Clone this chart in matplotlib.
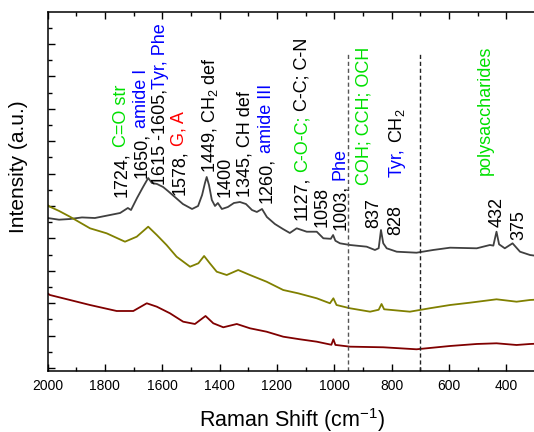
import matplotlib
matplotlib.use("Agg")
import matplotlib.pyplot as plt
from matplotlib.ticker import MultipleLocator
from matplotlib.transforms import offset_copy

plt.rcParams['font.family'] = ['Liberation Sans', 'DejaVu Sans']
plt.rcParams['mathtext.fontset'] = 'custom'
plt.rcParams['mathtext.rm'] = 'Liberation Sans'

# spectra (wavenumber in cm-1, intensity in arbitrary units)
wn_top = [2000, 1960, 1922, 1880, 1835, 1782, 1747, 1720, 1709, 1688, 1667, 1649, 1636, 1618,
          1597, 1580, 1556, 1528, 1496, 1475, 1461, 1451, 1445, 1437, 1427, 1416, 1406, 1392,
          1371, 1350, 1329, 1308, 1287, 1270, 1252, 1235, 1207, 1179, 1155, 1131, 1096,
          1061, 1038, 1012, 1004, 996, 980, 945, 887, 858, 845, 837, 829, 817, 782, 713,
          655, 596, 503, 457, 445, 434, 425, 405, 378, 352, 317, 300]
int_top = [4632, 4580, 4601, 4650, 4632, 4725, 4787, 4941, 4879, 5249, 5589, 5867, 5712, 5681,
           5589, 5465, 5280, 5064, 4910, 5003, 5342, 5712, 5898, 5651, 5188, 5003, 5095, 4910,
           4972, 5095, 5126, 5064, 4879, 4818, 4910, 4663, 4447, 4293, 4170, 4314, 4209,
           4209, 4006, 3990, 4107, 3930, 3851, 3799, 3747, 3645, 3700, 4262, 3851, 3697,
           3592, 3561, 3645, 3716, 3697, 3799, 3780, 4209, 3820, 3697, 3851, 3592, 3490, 3470]

wn_mid = [2000, 1992, 1960, 1922, 1852, 1794, 1730, 1689, 1649, 1619, 1585, 1550, 1503, 1474,
          1454, 1434, 1410, 1375, 1335, 1294, 1236, 1178, 1126, 1061, 1015, 1003, 992,
          945, 875, 845, 835, 826, 736, 667, 596, 527, 434, 364, 317, 300]
int_mid = [5033, 4981, 4850, 4672, 4314, 4160, 3901, 4055, 4364, 4108, 3799, 3438, 3129, 3234,
           3460, 3234, 2975, 2873, 3027, 2873, 2666, 2410, 2308, 2154, 2000, 2154, 1947,
           1846, 1741, 1800, 1978, 1815, 1741, 1846, 1947, 2018, 2123, 2049, 2102, 2110]

wn_low = [2000, 1992, 1922, 1852, 1759, 1701, 1654, 1619, 1573, 1527, 1486, 1449, 1422,
          1387, 1340, 1294, 1236, 1178, 1120, 1061, 1010, 1003, 996, 945, 829, 713, 596,
          503, 434, 364, 317, 300]
int_low = [2308, 2256, 2102, 1947, 1762, 1762, 2000, 1895, 1691, 1432, 1361, 1608, 1383,
           1259, 1361, 1228, 1123, 969, 889, 815, 720, 889, 715, 661, 642, 580, 682,
           744, 765, 713, 744, 750]

region_edges = [953, 700]
xticks = [2000, 1800, 1600, 1400, 1200, 1000, 800, 600, 400]

K, G, B, R = 'black', '#00e000', '#0000ff', '#ff0000'
sub2 = r'$_\mathregular{2}$'
labels = [
    (1750, 5290, [("1724,", K), (" C=O str", G)]),
    (1678, 5857, [("1650,", K), (" amide I", B)]),
    (1614, 5651, [("1615 -1605,", K), ("Tyr, Phe", B)]),
    (1548, 5342, [("1578,", K), (" G, A", R)]),
    (1440, 6012, [("1449, CH" + sub2 + " def", K)]),
    (1387, 5290, [("1400", K)]),
    (1317, 5290, [("1345, CH def", K)]),
    (1242, 5086, [("1260,", K), (" amide III", B)]),
    (1120, 4570, [("1127,", K), (" C-O-C;", G), (" C-C; C-N", K)]),
    (1050, 4364, [("1058", K)]),
    (986, 4262, [("1003,", K), (" Phe", B)]),
    (904, 5651, [("COH; CCH; OCH", G)]),
    (870, 4314, [("837", K)]),
    (788, 5907, [("Tyr,", B), (" CH" + sub2, K)]),
    (794, 4108, [("828", K)]),
    (480, 5959, [("polysaccharides", G)]),
    (440, 4364, [("432", K)]),
    (364, 3950, [("375", K)]),
]

fig = plt.figure(figsize=(5.34, 4.32), dpi=100)
ax = fig.add_axes([0.0891, 0.1412, 0.9126, 0.831])

ax.plot(wn_top, int_top, color='#404040', lw=1.3)
ax.plot(wn_mid, int_mid, color='#808000', lw=1.3)
ax.plot(wn_low, int_low, color='#800000', lw=1.3)

for xv, col in zip(region_edges, ['#555555', '#222222']):
    ax.plot([xv, xv], [-90, 9724], color=col, lw=1.0, ls=(0, (3, 2)))

ax.set_xlim(2000, 300)
ax.set_ylim(-90, 10990)
ax.set_xticks(xticks)
ax.xaxis.set_minor_locator(MultipleLocator(100))
ax.yaxis.set_major_locator(MultipleLocator(1000))
ax.yaxis.set_minor_locator(MultipleLocator(500))
ax.set_yticklabels([])
ax.tick_params(which='both', direction='in', top=True, right=False, width=1.0)
ax.tick_params(which='major', length=5, labelsize=10, pad=6)
ax.tick_params(which='minor', length=2.7)
ax.spines['right'].set_visible(False)
for s in ['left', 'bottom', 'top']:
    ax.spines[s].set_linewidth(1.1)

fig.text(291.7 / 534, 1 - 426.5 / 432, r'Raman Shift (cm$^\mathregular{-1}$)',
         fontsize=15.5, ha='center', va='baseline')
fig.text(18.5 / 534, 1 - 166.5 / 432, 'Intensity (a.u.)', fontsize=15,
         rotation=90, ha='center', va='center')

# vertical labels made of differently coloured pieces, stacked along the text
renderer = fig.canvas.get_renderer()
size = 13
px_per_pt = fig.dpi / 72
dx = 0.36 * size * px_per_pt
gap = 0.26 * size * px_per_pt
for xv, yv, parts in labels:
    shift = 0.0
    for s, c in parts:
        if s.startswith(' '):
            shift += gap
            s = s.lstrip()
        tr = offset_copy(ax.transData, fig=fig, x=dx, y=shift, units='dots')
        t = ax.text(xv, yv, s, color=c, fontsize=size, rotation=90,
                    rotation_mode='anchor', ha='left', va='baseline', transform=tr)
        shift += t.get_window_extent(renderer).height

fig.savefig('out.png', dpi=100)
